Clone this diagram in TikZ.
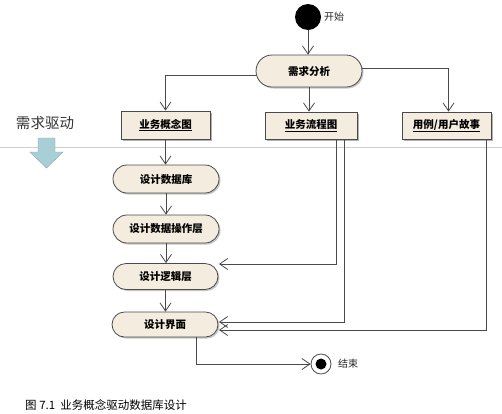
\documentclass[tikz,border=0pt]{standalone}
\usepackage{fontspec}
\setmainfont{Noto Sans CJK SC}
\usetikzlibrary{arrows.meta,shapes.misc,shadows}
\definecolor{cream}{HTML}{F4EDDF}
\definecolor{edge}{HTML}{4A4A4A}
\definecolor{sep}{HTML}{CFCFCF}
\definecolor{bluearr}{HTML}{A9CFD6}
\begin{document}
\begin{tikzpicture}[x=1pt,y=-1pt,
  arr/.style={draw=edge,line width=0.8pt,-{Straight Barb[length=8pt,width=11pt,line width=0.8pt]}},
  act/.style={rounded rectangle,draw=edge,line width=0.8pt,fill=cream,inner sep=0pt,
     font=\bfseries\fontsize{10.5}{12}\selectfont,
     copy shadow={shadow xshift=1.5pt,shadow yshift=-1.5pt,fill=gray!45,draw=none}},
  art/.style={rectangle,draw=edge,line width=0.8pt,fill=cream,inner sep=0pt,
     font=\bfseries\fontsize{10.5}{12}\selectfont,
     copy shadow={shadow xshift=2pt,shadow yshift=-2pt,fill=gray!60,draw=none}},
  lbl/.style={font=\fontsize{10}{12}\selectfont,text=black!85,anchor=west,inner sep=0pt}]
\useasboundingbox (0,0) rectangle (502,413);
\fill[white] (0,0) rectangle (502,413);
% separator line
\draw[sep,line width=0.8pt] (0,147) -- (502,147);
% left note
\node[font=\fontsize{14.5}{16}\selectfont,text=black!80,anchor=center,inner sep=0pt] (drv) at (45,123) {需求驱动};
\filldraw[fill=bluearr,draw=bluearr!80!black,line width=0.4pt]
  (38,138) -- (55,138) -- (55,152) -- (63,152) -- (46.5,168) -- (30,152) -- (38,152) -- cycle;
% nodes
\node[circle,fill=black,minimum size=26pt,inner sep=0pt] (start) at (308,17) {};
\node[lbl] (startl) at (324,17) {开始};
\node[act,minimum width=106pt,minimum height=32pt] (xq) at (309,71) {需求分析};
\node[art,minimum width=89pt,minimum height=28pt] (gn) at (165.5,125) {\underline{业务概念图}};
\node[art,minimum width=92pt,minimum height=27pt] (lc) at (311,125.5) {\underline{业务流程图}};
\node[art,minimum width=89pt,minimum height=27pt] (yl) at (446.5,125.5) {\underline{用例/用户故事}};
\node[act,minimum width=106pt,minimum height=28pt] (db) at (166,179) {设计数据库};
\node[act,minimum width=106pt,minimum height=28pt] (op) at (166,229) {设计数据操作层};
\node[act,minimum width=105pt,minimum height=26pt] (lj) at (165.5,276.5) {设计逻辑层};
\node[act,minimum width=106pt,minimum height=25pt] (ui) at (165,324.5) {设计界面};
\node[circle,draw=edge,line width=0.8pt,fill=white,minimum size=20pt,inner sep=0pt] (end) at (321,364) {};
\node[circle,fill=black,minimum size=11pt,inner sep=0pt] (endin) at (end.center) {};
\node[lbl] (endl) at (338,364) {结束};
% entry points
\coordinate (ljin) at (219,264);
\coordinate (uiin1) at (219,322);
\coordinate (uiin2) at (219,330);
% connectors
\draw[arr] (start) -- (xq.north -| start);
\draw[arr] ([yshift=-4pt]xq.west) -| (gn.north);
\draw[arr] (xq.south) -- (xq.south |- lc.north);
\draw[arr] ([yshift=3pt]xq.east) -| ([xshift=2pt]yl.north);
\draw[arr] (gn.south) -- (gn.south |- db.north);
\draw[arr] (db.south) -- (op.north);
\draw[arr] (op.south) -- (op.south |- lj.north);
\draw[arr] (lj.south) -- (lj.south |- ui.north);
\draw[arr] ([xshift=25pt]lc.south) |- (ljin);
\draw[arr] ([xshift=33pt]lc.south) |- (uiin1);
\draw[arr] ([xshift=39.5pt]yl.south) |- (uiin2);
\draw[arr] ([xshift=31pt]ui.south) |- (end.west);
% caption
\node[font=\fontsize{11.5}{13}\selectfont,anchor=west,inner sep=0pt] (cap) at (25,405) {图 7.1\ \ 业务概念驱动数据库设计};
\end{tikzpicture}
\end{document}
